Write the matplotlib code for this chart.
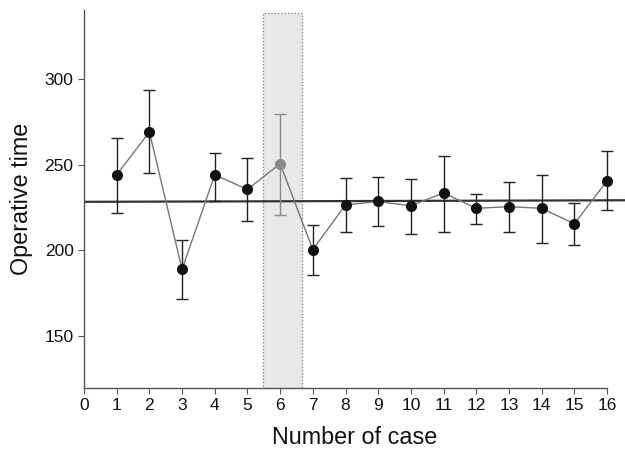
import numpy as np
import matplotlib.pyplot as plt
from matplotlib.patches import Rectangle

plt.rcParams['font.family'] = ['Liberation Sans', 'DejaVu Sans']

cases = np.arange(1, 17)
mean_time = [244, 269, 189, 244, 235.5, 250.5, 200.5, 226.5, 228.5, 226, 233.5, 224.5, 225.5, 224.5, 215.5, 240.5]
err_top = [265.5, 293.5, 206, 257, 254, 279.5, 215, 242, 243, 241.5, 255, 233, 240, 244, 227.5, 258]
err_bot = [222, 245, 172, 229, 217, 220.5, 185.5, 210.5, 214, 209.5, 211, 215.5, 210.5, 204.5, 203, 223.5]
ref_x = [0, 16.6]
ref_y = [228.3, 229.2]
highlight = 6
span = (5.47, 6.66, 338)

fig = plt.figure(figsize=(6.25, 4.5), dpi=100)
ax = fig.add_axes([0.1344, 0.138, 0.8656, 0.84])

ax.add_patch(Rectangle((span[0], 120), span[1] - span[0], span[2] - 120,
                       facecolor='#e8e8e8', edgecolor='#777777', linestyle=':', lw=0.9, zorder=0))

ax.plot(ref_x, ref_y, color='#333333', lw=1.6, zorder=1)
ax.plot(cases, mean_time, color='#777777', lw=1.0, zorder=2)

for x, m, t, b in zip(cases, mean_time, err_top, err_bot):
    c = '#8a8a8a' if x == highlight else '#222222'
    ax.errorbar([x], [m], yerr=[[m - b], [t - m]], fmt='none', ecolor=c,
                elinewidth=1.0, capsize=4, capthick=1.0, zorder=3)
    ax.plot([x], [m], 'o', color=c if x == highlight else '#111111', ms=7, zorder=4)

ax.set_xlim(0, 16.55)
ax.set_ylim(120, 340)
ax.set_xticks(range(0, 17))
ax.set_yticks([150, 200, 250, 300])
ax.spines['top'].set_visible(False)
ax.spines['right'].set_visible(False)
ax.spines['bottom'].set_bounds(0, 16)
for s in ['left', 'bottom']:
    ax.spines[s].set_color('#555555')
    ax.spines[s].set_linewidth(1.0)
ax.tick_params(direction='out', length=4, color='#555555', labelsize=12.5, labelcolor='#111111')
ax.set_xlabel('Number of case', fontsize=16.8, color='#111111', labelpad=9)
ax.set_ylabel('Operative time', fontsize=16.8, color='#111111', labelpad=8)

fig.savefig('out.png', dpi=100)
